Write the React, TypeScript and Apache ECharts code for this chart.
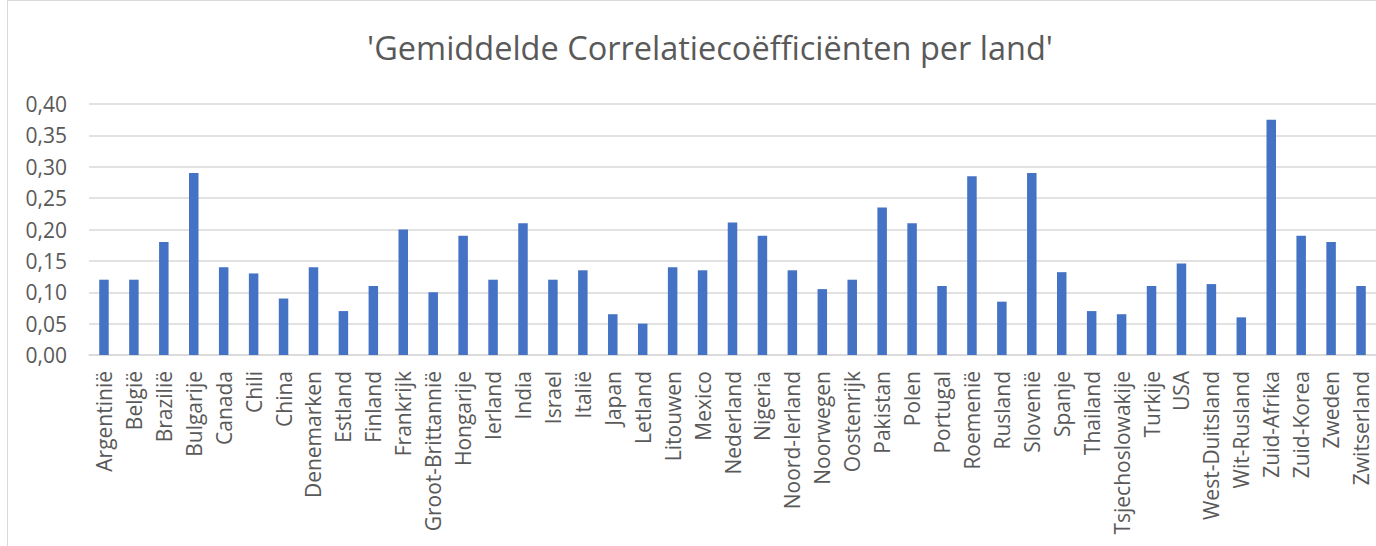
import React, { useEffect, useRef } from "react";
import * as echarts from "echarts";

const categories: string[] = [
  "Argentinië", "België", "Brazilië", "Bulgarije", "Canada", "Chili", "China", "Denemarken",
  "Estland", "Finland", "Frankrijk", "Groot-Brittannië", "Hongarije", "Ierland", "India", "Israel",
  "Italië", "Japan", "Letland", "Litouwen", "Mexico", "Nederland", "Nigeria", "Noord-Ierland",
  "Noorwegen", "Oostenrijk", "Pakistan", "Polen", "Portugal", "Roemenië", "Rusland", "Slovenië",
  "Spanje", "Thailand", "Tsjechoslowakije", "Turkije", "USA", "West-Duitsland", "Wit-Rusland",
  "Zuid-Afrika", "Zuid-Korea", "Zweden", "Zwitserland",
];

const values: number[] = [
  0.12, 0.12, 0.18, 0.29, 0.14, 0.13, 0.09, 0.14,
  0.07, 0.11, 0.2, 0.1, 0.19, 0.12, 0.21, 0.12,
  0.135, 0.065, 0.05, 0.14, 0.135, 0.211, 0.19, 0.135,
  0.105, 0.12, 0.235, 0.21, 0.11, 0.285, 0.085, 0.29,
  0.132, 0.07, 0.065, 0.11, 0.146, 0.113, 0.06,
  0.375, 0.19, 0.18, 0.11,
];

const titleText = "'Gemiddelde Correlatiecoëfficiënten per land'";
const yMin = 0;
const yMax = 0.4;
const yInterval = 0.05;

export default function App() {
  const ref = useRef<HTMLDivElement>(null);
  useEffect(() => {
    document.body.style.overflow = "hidden";
    const chart = echarts.init(ref.current!, undefined, { renderer: "svg" });
    const font = "'Open Sans', 'Noto Sans', sans-serif";
    chart.setOption({
      animation: false,
      backgroundColor: "#ffffff",
      title: {
        text: titleText,
        left: 697,
        top: 25,
        textAlign: "center",
        textStyle: { fontFamily: font, fontSize: 32.5, fontWeight: "normal", color: "#595959" },
      },
      grid: { left: 81, top: 103, width: 1290, height: 251, containLabel: false },
      xAxis: {
        type: "category",
        data: categories,
        axisLine: { show: true, lineStyle: { color: "#d9d9d9", width: 1.5 } },
        axisTick: { show: false },
        axisLabel: {
          rotate: 90,
          interval: 0,
          margin: 16,
          color: "#595959",
          fontFamily: font,
          fontSize: 21,
        },
      },
      yAxis: {
        type: "value",
        min: yMin,
        max: yMax,
        interval: yInterval,
        axisLine: { show: false },
        axisTick: { show: false },
        splitLine: { lineStyle: { color: "#d9d9d9", width: 1.5 } },
        axisLabel: {
          margin: 22,
          color: "#595959",
          fontFamily: font,
          fontSize: 21,
          formatter: (v: number) => v.toFixed(2).replace(".", ","),
        },
      },
      series: [
        {
          type: "bar",
          data: values,
          barWidth: 9.5,
          itemStyle: { color: "#4472C4" },
        },
      ],
    });
    return () => chart.dispose();
  }, []);
  return (
    <div
      style={{
        position: "absolute",
        left: 7,
        top: 0,
        width: 1368,
        height: 545,
        borderLeft: "1px solid #d9d9d9",
        borderTop: "1px solid #d9d9d9",
        background: "#fff",
      }}
    >
      <div ref={ref} style={{ width: 1368, height: 545 }} />
    </div>
  );
}
